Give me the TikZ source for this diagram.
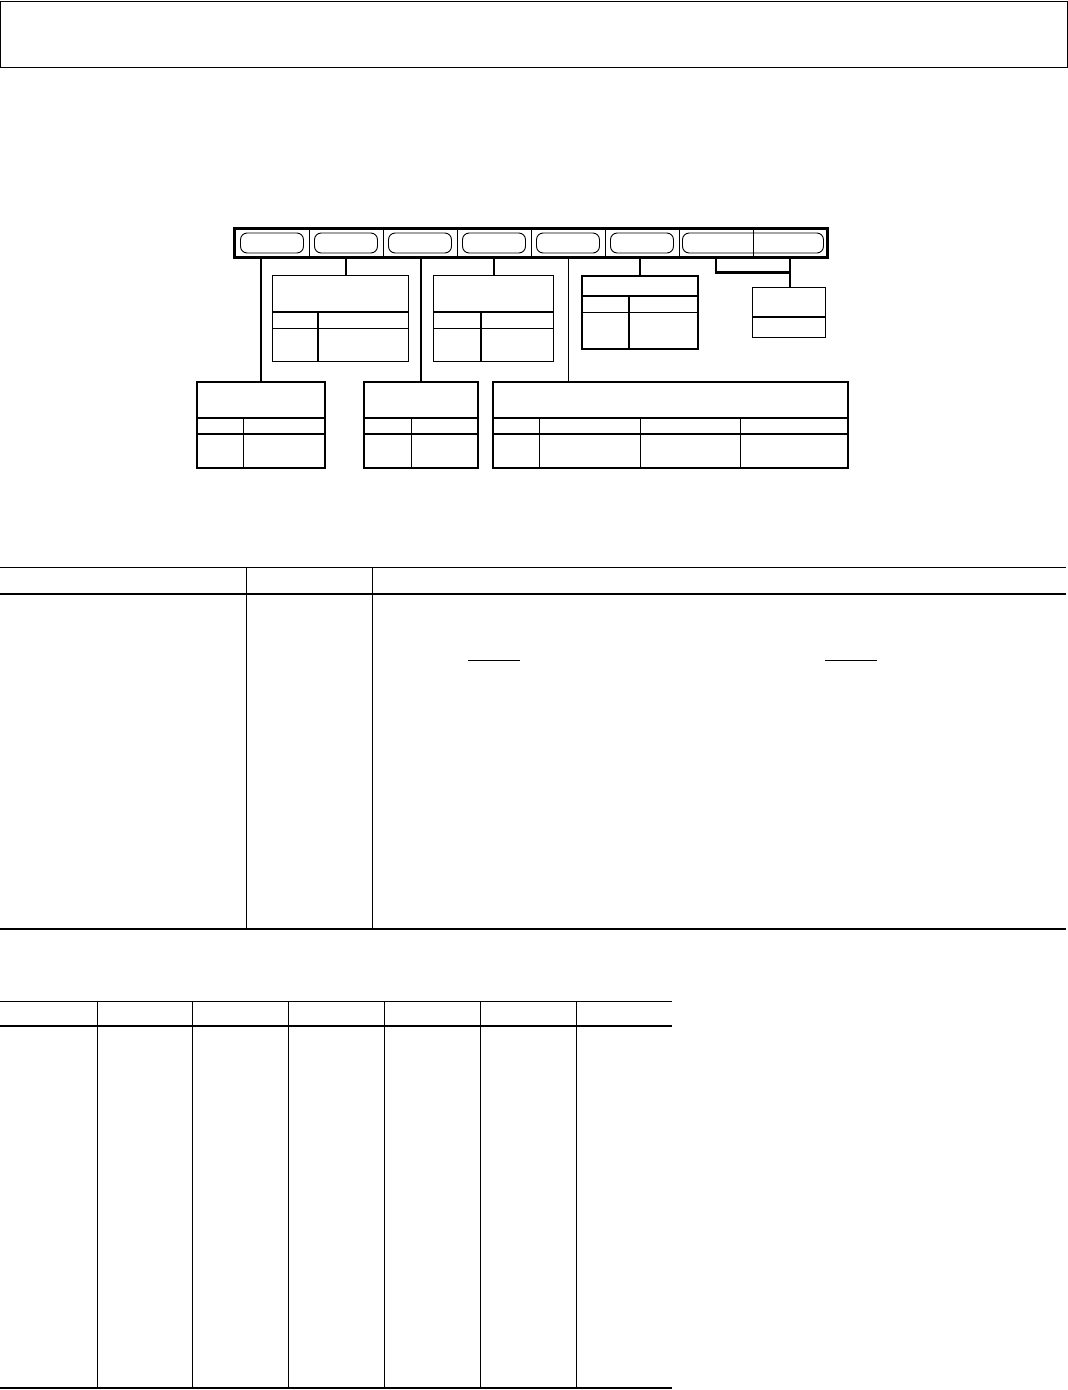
\documentclass[tikz,border=0pt]{standalone}
\usepackage{tikz}
\usetikzlibrary{calc,positioning}
\newcommand{\pxu}{0.75pt}
\tikzset{
  thinline/.style  = {line width=0.7pt},
  ruleline/.style  = {line width=1.3pt},
  heavyline/.style = {line width=1.8pt},
  regcell/.style   = {draw, thinline, inner sep=0pt,
                      minimum width=74*\pxu, minimum height=28*\pxu},
  pill/.style      = {draw, thinline, rounded corners=5pt, inner sep=0pt,
                      minimum width=63*\pxu, minimum height=20*\pxu},
  fmtbox/.style    = {draw, inner sep=0pt, anchor=north west},
}

\begin{document}
\begin{tikzpicture}[x=0.75pt,y=-0.75pt]
  \useasboundingbox (0,0) rectangle (1068,1390);

  % title frame
  \node[fmtbox, thinline, minimum width=1066*\pxu, minimum height=66*\pxu] (title) at (0.5,0.5) {};
  \draw[ruleline] (title.south west) -- (title.south east);

  % register bar
  \foreach \i in {1,...,8}
    \node[regcell] (c\i) at ({235+74*(\i-0.5)},243) {};
  \foreach \i in {1,...,6}
    \node[pill] (p\i) at (c\i) {};
  \node[pill, minimum width=141*\pxu] (p7) at ($(c7)!0.5!(c8)$) {};
  \draw[heavyline] (c1.north west) rectangle (c8.south east);

  % upper fields
  \node[fmtbox, thinline, minimum width=136*\pxu, minimum height=86*\pxu] (fmtA) at (272,275) {};
  \draw[heavyline] (272,312) -- (408,312);
  \draw[thinline] (272,328) -- (408,328);
  \draw[heavyline] (318,312) -- (318,361);

  \node[fmtbox, thinline, minimum width=120*\pxu, minimum height=86*\pxu] (fmtB) at (433,275) {};
  \draw[heavyline] (433,312) -- (553,312);
  \draw[thinline] (433,328) -- (553,328);
  \draw[heavyline] (481,312) -- (481,361);

  \node[fmtbox, heavyline, minimum width=116*\pxu, minimum height=73*\pxu] (fmtC) at (581,275) {};
  \draw[heavyline] (581,296) -- (697,296);
  \draw[thinline] (581,312) -- (697,312);
  \draw[heavyline] (629,296) -- (629,348);

  \node[fmtbox, thinline, minimum width=73*\pxu, minimum height=50*\pxu] (fmtD) at (752,287) {};
  \draw[heavyline] (752,317) -- (825,317);

  % lower fields
  \node[fmtbox, heavyline, minimum width=128*\pxu, minimum height=86*\pxu] (fmtL) at (196,381) {};
  \node[fmtbox, heavyline, minimum width=114*\pxu, minimum height=86*\pxu] (fmtM) at (363,381) {};
  \node[fmtbox, heavyline, minimum width=355*\pxu, minimum height=86*\pxu] (fmtR) at (492,381) {};
  \foreach \f in {fmtL,fmtM,fmtR} {
    \draw[heavyline] (\f.west |- 0,418) -- (\f.east |- 0,418);
    \draw[heavyline] (\f.west |- 0,434) -- (\f.east |- 0,434);
  }
  \foreach \x in {243,411,539,640,740}
    \draw[thinline] (\x,418) -- (\x,467);

  % connectors
  \draw[heavyline] (fmtL.north) -- (fmtL.north |- c1.south);
  \draw[heavyline] (c2.south) -- (c2.south |- fmtA.north);
  \draw[heavyline] (fmtM.north) -- (fmtM.north |- c3.south);
  \draw[heavyline] (c4.south) -- (c4.south |- fmtB.north);
  \draw[thinline] (c5.south) -- (c5.south |- fmtR.north);
  \draw[heavyline] (fmtC.north) -- (fmtC.north |- c6.south);
  \coordinate (split) at ($(c8.south)+(0,15)$);
  \draw[heavyline] (c7.south) |- (split);
  \draw[heavyline] (c8.south) -- (c8.south |- fmtD.north);

  % description table
  \draw[thinline] (0,567) -- (1066,567);
  \draw[ruleline] (0,594) -- (1066,594);
  \draw[ruleline] (0,929) -- (1066,929);
  \foreach \x in {246,372}
    \draw[thinline] (\x,567) -- (\x,929);
  \draw[thinline] (468,660) -- (520,660);
  \draw[thinline] (825,660) -- (877,660);

  % code table
  \draw[thinline] (0,1001) -- (672,1001);
  \draw[ruleline] (0,1026) -- (672,1026);
  \draw[ruleline] (0,1388) -- (672,1388);
  \foreach \x in {97,192,288,384,480,576}
    \draw[thinline] (\x,1001) -- (\x,1388);
\end{tikzpicture}
\end{document}
